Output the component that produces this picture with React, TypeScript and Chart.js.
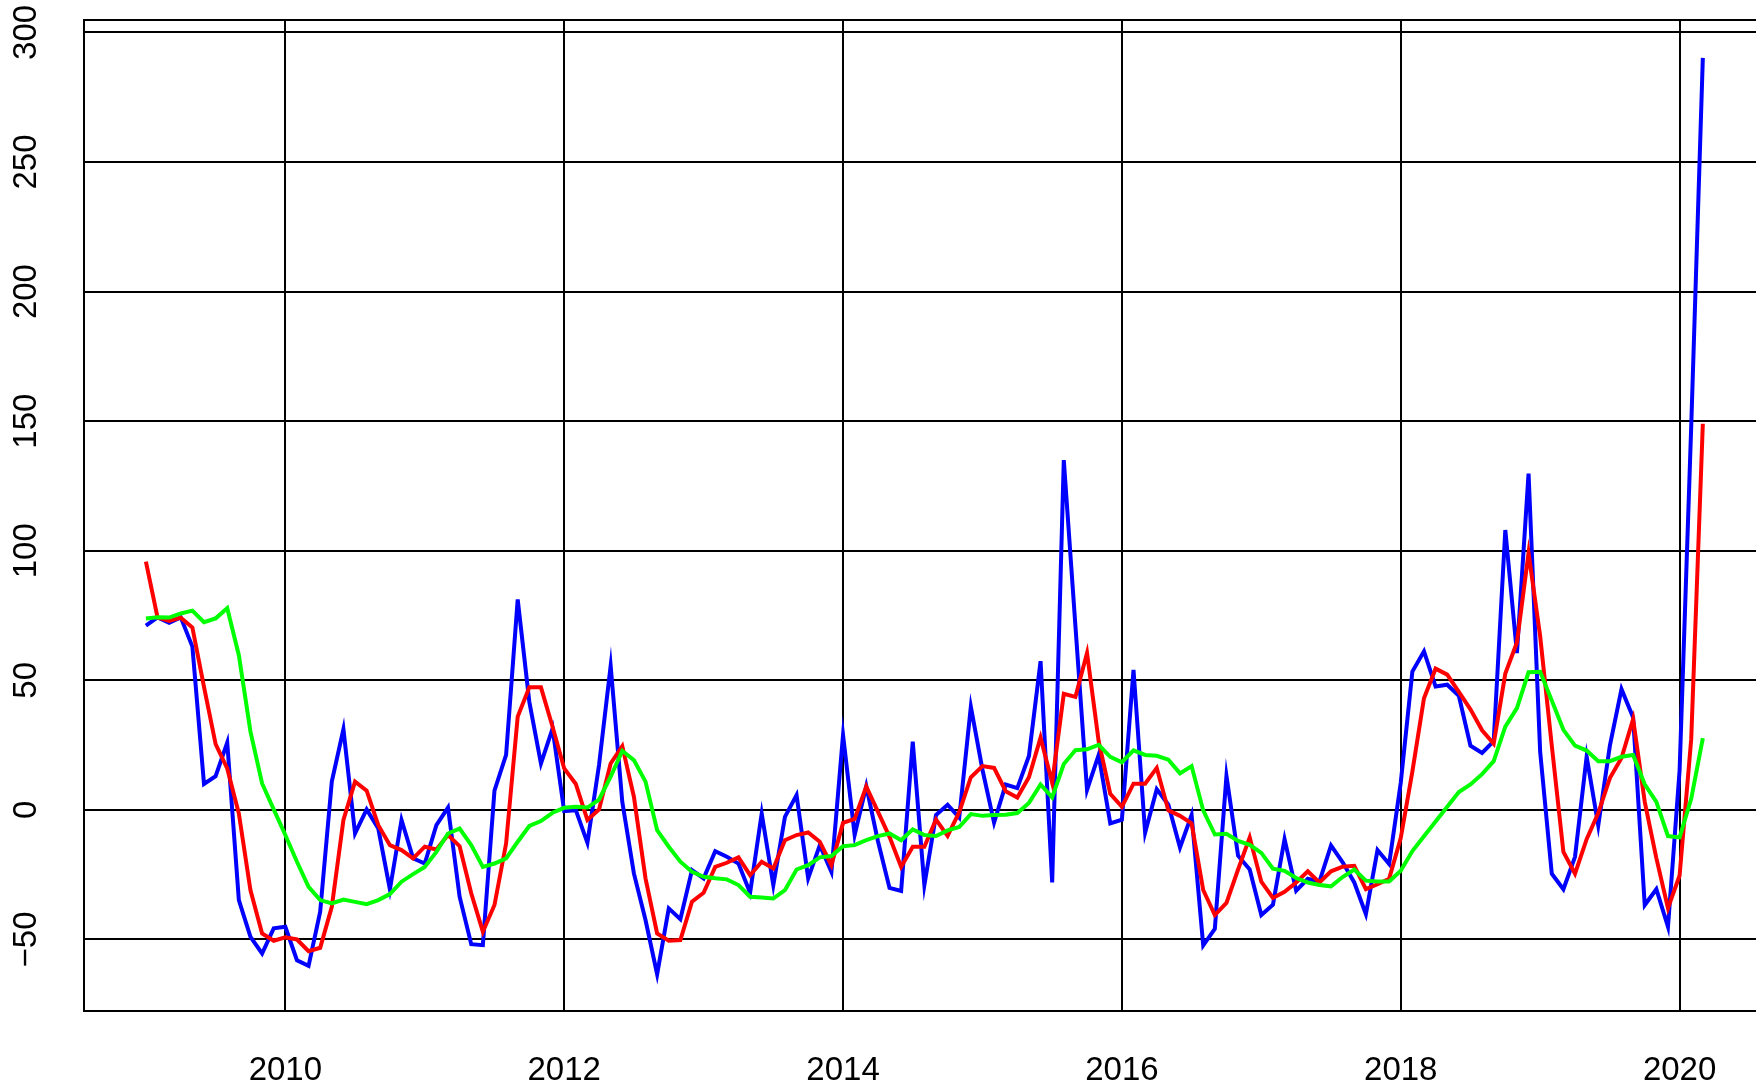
import React, { useEffect, useRef } from "react";
import { Chart, registerables } from "chart.js";

Chart.register(...registerables);

// Monthly series, January 2009 to March 2020
const START_YEAR = 2009;

const blueSeries: number[] = [
  71.1, 74.3, 72.2, 74.3, 63.0, 10.0, 13.0, 26.0, -34.8, -49.0, -55.4, -45.7,
  -45.1, -58.0, -60.2, -39.3, 10.9, 31.1, -9.1, 0.2, -7.2, -30.7, -3.9, -18.7,
  -20.7, -5.9, 0.9, -33.5, -51.8, -52.2, 7.4, 21.2, 81.2, 41.7, 17.9, 31.4,
  -0.5, -0.1, -12.7, 17.3, 55.6, 3.1, -24.5, -42.5, -63.4, -38.0, -42.2, -23.2,
  -26.4, -15.9, -18.1, -20.7, -32.0, -1.4, -29.0, -2.7, 5.7, -26.4, -13.6, -23.9,
  28.9, -9.7, 9.2, -12.0, -30.1, -31.3, 26.3, -29.0, -2.0, 2.0, -3.0, 39.8,
  15.5, -4.9, 9.8, 8.4, 20.8, 57.4, -28.0, 135.0, 71.0, 7.7, 21.2, -5.2,
  -3.8, 54.0, -8.8, 8.0, 2.0, -14.5, -2.0, -52.3, -45.9, 13.1, -17.7, -23.0,
  -40.6, -36.6, -11.3, -31.2, -26.6, -27.7, -13.7, -20.2, -28.0, -40.2, -15.5, -20.9,
  10.5, 53.4, 61.2, 47.6, 48.3, 44.0, 24.8, 22.0, 26.5, 108.0, 60.5, 129.8,
  22.4, -24.6, -30.6, -18.1, 20.5, -6.0, 24.8, 46.6, 35.7, -36.7, -30.6, -45.1,
  15.2, 148.0, 290.2,
];

const redSeries: number[] = [
  95.8, 74.3, 72.9, 74.2, 70.4, 47.5, 25.4, 16.0, -1.4, -31.0, -47.7, -50.5,
  -49.2, -50.0, -54.5, -53.2, -37.4, -3.9, 10.9, 7.4, -5.9, -13.6, -15.5, -18.7,
  -14.2, -15.3, -9.7, -14.0, -32.2, -47.0, -36.7, -13.0, 36.0, 47.3, 47.3, 32.1,
  16.0, 10.0, -3.9, 0.2, 17.9, 24.6, 5.1, -26.4, -47.7, -50.5, -50.2, -35.4,
  -32.0, -22.0, -20.4, -18.3, -25.2, -20.0, -22.6, -11.7, -9.7, -8.7, -12.3, -21.3,
  -5.0, -3.5, 9.0, -0.7, -10.4, -22.0, -14.2, -14.2, -3.7, -10.0, -0.9, 12.6,
  16.9, 16.2, 7.2, 4.8, 12.6, 27.9, 10.5, 44.8, 43.6, 60.5, 26.5, 6.2,
  1.2, 10.1, 10.1, 16.2, -0.2, -2.3, -5.2, -30.9, -40.6, -35.9, -23.0, -10.6,
  -27.7, -34.0, -31.6, -28.0, -23.7, -28.0, -23.7, -21.9, -21.6, -30.6, -28.7, -26.6,
  -10.9, 14.8, 43.1, 54.5, 52.2, 45.5, 38.8, 30.7, 25.5, 52.6, 64.6, 99.1,
  67.0, 24.8, -16.2, -24.6, -11.3, -1.2, 12.3, 20.0, 35.0, 3.1, -18.6, -37.9,
  -25.3, 27.3, 149.0,
];

const greenSeries: number[] = [
  73.9, 74.3, 74.2, 75.8, 76.9, 72.4, 73.9, 77.8, 59.7, 30.2, 10.2, 0.2,
  -9.7, -20.0, -29.7, -34.8, -36.1, -34.6, -35.5, -36.4, -34.8, -32.5, -27.7, -24.8,
  -22.0, -16.2, -9.1, -7.2, -13.6, -22.0, -20.7, -18.7, -12.3, -6.2, -4.3, -1.1,
  0.8, 1.2, 0.9, 4.0, 12.8, 22.8, 19.2, 10.9, -7.8, -14.2, -20.0, -23.9,
  -25.8, -26.4, -26.8, -29.0, -33.5, -33.8, -34.2, -31.0, -23.0, -21.3, -18.3, -17.8,
  -14.0, -13.6, -11.7, -10.1, -9.1, -11.7, -7.5, -9.7, -10.1, -7.9, -6.6, -1.6,
  -2.3, -2.0, -1.9, -1.2, 2.7, 9.8, 4.8, 17.7, 23.0, 23.4, 25.1, 20.5,
  18.4, 23.0, 21.2, 20.9, 19.4, 14.1, 16.9, -0.2, -9.5, -9.2, -12.0, -13.5,
  -16.6, -22.7, -23.5, -26.3, -28.0, -29.0, -29.5, -25.9, -23.0, -27.3, -27.6, -27.6,
  -23.5, -15.9, -10.2, -4.5, 1.2, 6.9, 9.8, 13.8, 18.8, 32.1, 39.3, 53.1,
  53.3, 42.2, 30.9, 24.8, 22.9, 18.8, 18.8, 20.5, 21.2, 9.9, 3.1, -10.1,
  -10.6, 4.3, 27.7,
];

const xTicks: number[] = [2010, 2012, 2014, 2016, 2018, 2020];
const yTicks: number[] = [-50, 0, 50, 100, 150, 200, 250, 300];

const X_MIN = 2008.556;
const X_MAX = 2020.548;
const Y_MIN = -77.6;
const Y_MAX = 304.8;

const toPoints = (vals: number[]) =>
  vals.map((v, i) => ({ x: START_YEAR + i / 12, y: v }));

const FONT = { family: "'Liberation Sans', Arial, sans-serif", size: 33 };

const topBorder = {
  id: "topBorder",
  beforeDatasetsDraw(chart: any) {
    const { ctx, chartArea } = chart;
    ctx.save();
    ctx.strokeStyle = "#000";
    ctx.lineWidth = 2;
    ctx.beginPath();
    ctx.moveTo(chartArea.left, chartArea.top);
    ctx.lineTo(chartArea.right, chartArea.top);
    ctx.stroke();
    ctx.restore();
  },
};

export default function App() {
  const ref = useRef<HTMLCanvasElement>(null);

  useEffect(() => {
    document.body.style.margin = "0";
    const canvas = ref.current;
    if (!canvas) return;
    const chart = new Chart(canvas, {
      type: "line",
      data: {
        datasets: [
          {
            data: toPoints(greenSeries),
            borderColor: "#00FF00",
            borderWidth: 4,
            pointRadius: 0,
            tension: 0,
            order: 0,
          },
          {
            data: toPoints(redSeries),
            borderColor: "#FF0000",
            borderWidth: 4,
            pointRadius: 0,
            tension: 0,
            order: 1,
          },
          {
            data: toPoints(blueSeries),
            borderColor: "#0000FF",
            borderWidth: 4,
            pointRadius: 0,
            tension: 0,
            order: 2,
          },
        ],
      },
      options: {
        responsive: false,
        animation: false,
        devicePixelRatio: 1,
        layout: { padding: { top: 20, left: 0, right: 0, bottom: 0 } },
        plugins: { legend: { display: false }, tooltip: { enabled: false } },
        scales: {
          x: {
            type: "linear",
            min: X_MIN,
            max: X_MAX,
            afterBuildTicks: (scale: any) => {
              scale.ticks = xTicks.map((v) => ({ value: v }));
            },
            afterFit: (scale: any) => {
              scale.height = 75;
              scale.paddingLeft = 0;
              scale.paddingRight = 0;
            },
            grid: { color: "#000", lineWidth: 2, drawTicks: false },
            border: { display: true, color: "#000", width: 2 },
            ticks: {
              color: "#000",
              font: FONT,
              padding: 40,
              maxRotation: 0,
              minRotation: 0,
              callback: (v: any) => String(v),
            },
          },
          y: {
            type: "linear",
            min: Y_MIN,
            max: Y_MAX,
            afterBuildTicks: (scale: any) => {
              scale.ticks = yTicks.map((v) => ({ value: v }));
            },
            afterFit: (scale: any) => {
              scale.width = 84;
              scale.paddingTop = 0;
              scale.paddingBottom = 0;
            },
            grid: { color: "#000", lineWidth: 2, drawTicks: false },
            border: { display: true, color: "#000", width: 2 },
            ticks: {
              color: "#000",
              font: FONT,
              minRotation: 90,
              maxRotation: 90,
              crossAlign: "center",
              padding: 29,
              callback: (v: any) => String(v).replace("-", "\u2212"),
            },
          },
        },
      },
      plugins: [topBorder],
    });
    return () => chart.destroy();
  }, []);

  return (
    <div style={{ position: "fixed", left: 0, top: 0, width: 1756, height: 1086 }}>
      <canvas ref={ref} width={1756} height={1086} style={{ display: "block" }} />
    </div>
  );
}
